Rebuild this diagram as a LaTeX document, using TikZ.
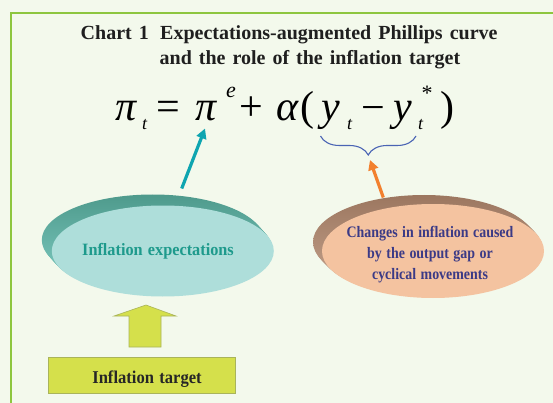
\documentclass[tikz,border=0pt]{standalone}
\usepackage{fontspec}
\setmainfont{Liberation Serif}
\newfontfamily\titlefont[WordSpace=1.4]{Liberation Serif}
\newfontfamily\condA[FakeStretch=0.94,WordSpace=1.3]{Liberation Serif}
\newfontfamily\condB[FakeStretch=0.87,WordSpace=1.3]{Liberation Serif}
\newfontfamily\condC[FakeStretch=0.92,WordSpace=1.3]{Liberation Serif}
\usetikzlibrary{arrows.meta,decorations.pathreplacing,shapes.geometric}
\definecolor{bgc}{HTML}{F3F9EC}
\definecolor{framec}{HTML}{8DC63F}
\definecolor{tealarr}{HTML}{0EA5B0}
\definecolor{orangearr}{HTML}{F2802E}
\definecolor{bracec}{HTML}{4A64B4}
\definecolor{ellAfront}{HTML}{AEDEDA}
\definecolor{ellAbacktop}{HTML}{4E9A8C}
\definecolor{ellAbackbot}{HTML}{7FCCC2}
\definecolor{ellAtext}{HTML}{1E9A8C}
\definecolor{ellBfront}{HTML}{F4C3A0}
\definecolor{ellBbacktop}{HTML}{9C7760}
\definecolor{ellBbackbot}{HTML}{C4A28C}
\definecolor{ellBtext}{HTML}{3B3A86}
\definecolor{yg}{HTML}{D5E04B}
\definecolor{ygborder}{HTML}{A9B45A}
\tikzset{
  titletext/.style={font=\titlefont\fontsize{20}{25}\selectfont\bfseries, inner sep=0pt, text=black!88, anchor=base west},
  eqit/.style={font=\fontsize{42}{46}\selectfont\itshape, inner sep=0pt, anchor=base},
  equp/.style={font=\fontsize{42}{46}\selectfont, inner sep=0pt, anchor=base},
  eqsub/.style={font=\fontsize{18}{20}\selectfont\itshape, inner sep=0pt, anchor=base},
  eqsup/.style={font=\fontsize{22}{24}\selectfont\itshape, inner sep=0pt, anchor=north},
  ellfront/.style={ellipse, inner sep=0pt, draw=none},
  ptr/.style={line width=3.2pt, -{Triangle[length=10pt,width=10pt]}},
}
\begin{document}
\begin{tikzpicture}[x=1pt,y=-1pt]
\useasboundingbox (0,0) rectangle (553,403);
\fill[bgc] (0,0) rectangle (553,403);
\draw[framec, line width=2pt] (10.7,410) -- (10.7,12.7) -- (560,12.7);

% title
\node[titletext] (chartno) at (80.5,40) {Chart 1};
\node[titletext] (title1) at (160,40) {Expectations-augmented Phillips curve};
\node[titletext] (title2) at (159.5,65) {and the role of the inflation target};

% equation
\node[eqit] (pi1) at (126.5,121) {π};
\node[eqsub] (t1) at (144.5,130) {t};
\node[equp] (eqs) at (168,121) {=};
\node[eqit] (pi2) at (206.5,121) {π};
\node[eqsup] (sup) at (231,87) {e};
\node[equp] (plus) at (251.5,121) {+};
\node[eqit] (alpha) at (287.5,121) {α};
\node[equp] (lp) at (307,121) {(};
\node[eqit] (y1) at (330.5,121) {y};
\node[eqsub] (t2) at (349.5,130) {t};
\node[equp] (minus) at (373.5,122) {−};
\node[eqit] (y2) at (403,121) {y};
\node[eqsub] (t3) at (420.5,130) {t};
\node[font=\fontsize{22}{24}\selectfont, inner sep=0pt, anchor=north] (star) at (427,86) {*};
\node[equp] (rp) at (447,121) {)};

% brace
\coordinate (bl) at (320.5,136);
\coordinate (br) at (416,136);
\coordinate (btip) at (370,160);
\coordinate (pietip) at (205,128.5);
\coordinate (tealtail) at (181.7,188.5);
\coordinate (orangetail) at (383.3,197.5);
\draw[bracec, line width=1.1pt, decorate, decoration={brace, mirror, amplitude=19pt}] (bl) -- (br);

% ellipses with extrusion
\foreach \k in {1,...,10}
  \shade[top color=ellAbacktop, bottom color=ellAbackbot] (162.8-\k, 251-1.1*\k) ellipse [x radius=111, y radius=45.5];
\node[ellfront, fill=ellAfront, minimum width=222pt, minimum height=91pt] (expect) at (162.8,251) {};
\node[font=\condA\fontsize{17.3}{20}\selectfont\bfseries, text=ellAtext, inner sep=0pt, anchor=base] (expecttext) at (158,255.7) {Inflation expectations};

\foreach \k in {1,...,9}
  \shade[top color=ellBbacktop, bottom color=ellBbackbot] (433-\k, 251-\k) ellipse [x radius=111, y radius=47];
\node[ellfront, fill=ellBfront, minimum width=222pt, minimum height=94pt] (gap) at (433,251) {};
\node[font=\condB\fontsize{16}{20.7}\selectfont\bfseries, text=ellBtext, align=center, inner sep=0pt, anchor=base] (gaptext) at (430,279) {Changes in inflation caused\\by the output gap or\\cyclical movements};

% arrows to equation
\draw[ptr, tealarr] (tealtail) -- (pietip);
\draw[ptr, orangearr] (orangetail) -- (btip);

% inflation target box
\node[draw=ygborder, fill=yg, line width=0.8pt, minimum width=187pt, minimum height=36pt, inner sep=0pt] (target) at (141.5,375) {};
\node[font=\condC\fontsize{18}{20}\selectfont\bfseries, inner sep=0pt, anchor=base, text=black!85] (targettext) at (147,383) {Inflation target};

% block arrow
\draw[ygborder, fill=yg, line width=0.6pt] (129,347) -- (129,316) -- (114,316) -- (146,305) -- (176,316) -- (161,316) -- (161,347) -- cycle;
\end{tikzpicture}
\end{document}
